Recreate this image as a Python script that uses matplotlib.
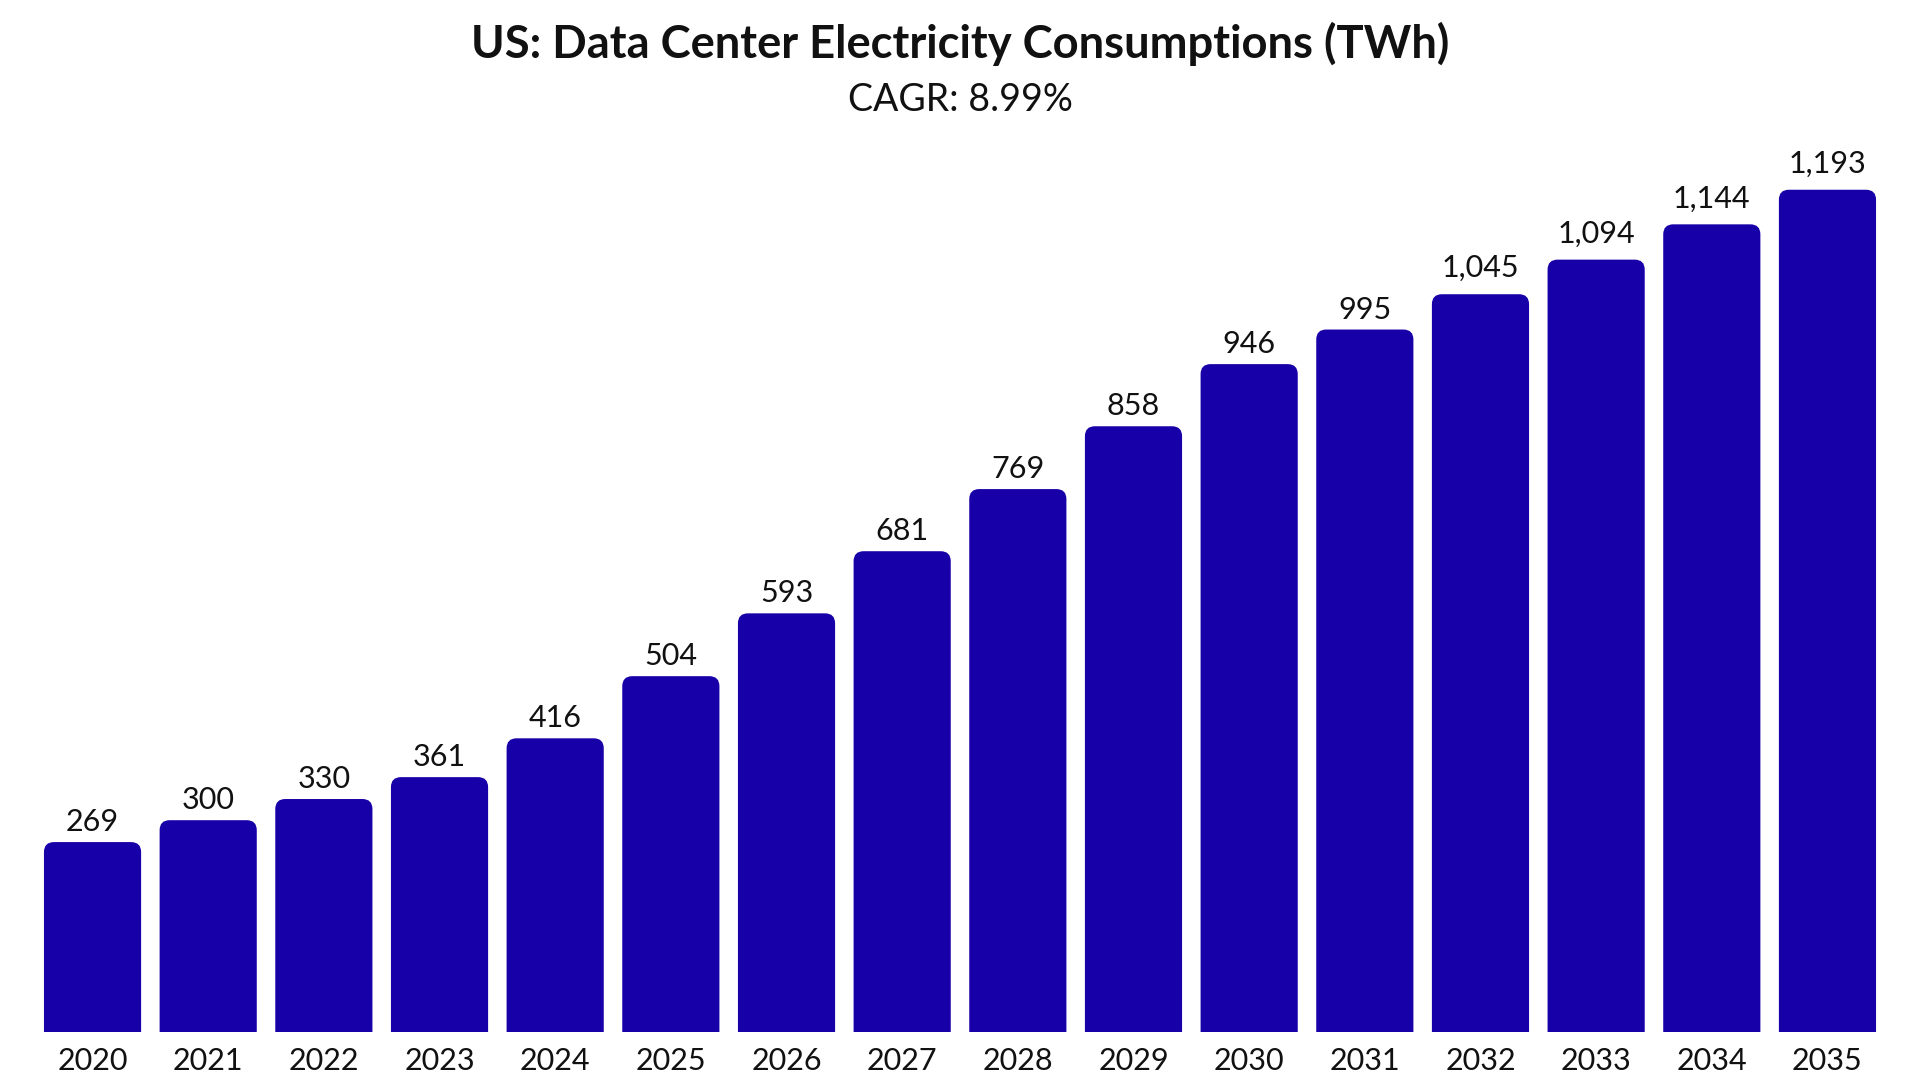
import matplotlib
matplotlib.use("Agg")
import matplotlib.pyplot as plt
from matplotlib.path import Path
from matplotlib.patches import PathPatch

years = ["2020", "2021", "2022", "2023", "2024", "2025", "2026", "2027",
         "2028", "2029", "2030", "2031", "2032", "2033", "2034", "2035"]
values = [269, 300, 330, 361, 416, 504, 593, 681, 769, 858, 946, 995,
          1045, 1094, 1144, 1193]
title = "US: Data Center Electricity Consumptions (TWh)"
subtitle = "CAGR: 8.99%"

BAR_COLOR = "#1800A8"
FONT = ["Lato", "DejaVu Sans"]
plt.rcParams["font.family"] = FONT

W, H = 1920, 1080
fig = plt.figure(figsize=(W / 100, H / 100), dpi=100)
fig.patch.set_facecolor("white")

ax_left, ax_right = 34.7, 1885.3
ax_bottom = 48.0
ymax = 1300
px_per_unit_y = 0.706
ax_height = ymax * px_per_unit_y
ax = fig.add_axes([ax_left / W, ax_bottom / H, (ax_right - ax_left) / W, ax_height / H])
ax.set_xlim(-0.5, len(years) - 0.5)
ax.set_ylim(0, ymax)
for s in ax.spines.values():
    s.set_visible(False)
ax.tick_params(axis="both", length=0)
ax.set_yticks([])
ax.set_xticks(range(len(years)))
ax.set_xticklabels(years, fontsize=22, color="#111111")
ax.tick_params(axis="x", pad=10.5)

bar_w = 0.84
px_per_unit_x = (ax_right - ax_left) / len(years)
r_px = 10.0
rx = r_px / px_per_unit_x
ry = r_px / px_per_unit_y

bars = ax.bar(range(len(years)), values, width=bar_w, color="none", edgecolor="none")
for rect, v in zip(bars, values):
    x0 = rect.get_x()
    x1 = x0 + rect.get_width()
    y0 = 0
    y1 = rect.get_height()
    verts = [
        (x0, y0), (x0, y1 - ry), (x0, y1), (x0 + rx, y1),
        (x1 - rx, y1), (x1, y1), (x1, y1 - ry), (x1, y0), (x0, y0),
    ]
    codes = [Path.MOVETO, Path.LINETO, Path.CURVE3, Path.CURVE3,
             Path.LINETO, Path.CURVE3, Path.CURVE3, Path.LINETO, Path.CLOSEPOLY]
    ax.add_patch(PathPatch(Path(verts, codes), facecolor=BAR_COLOR,
                           edgecolor="none", antialiased=True))
    label = f"{v:,}"
    # labels are placed by ink bottom: a comma descends below the baseline
    off = 11 + (6 if "," in label else 0)
    ax.annotate(label, xy=(rect.get_x() + rect.get_width() / 2, v),
                xytext=(0, off), textcoords="offset pixels", ha="center",
                va="baseline", fontsize=22, color="#111111", clip_on=False)

fig.text(0.5, 1 - 44 / H, title, ha="center", va="center", fontsize=32.7,
         fontweight="bold", color="#111111")
fig.text(0.5, 1 - 100 / H, subtitle, ha="center", va="center", fontsize=27,
         color="#111111")

fig.savefig("out.png", dpi=100, facecolor="white")
